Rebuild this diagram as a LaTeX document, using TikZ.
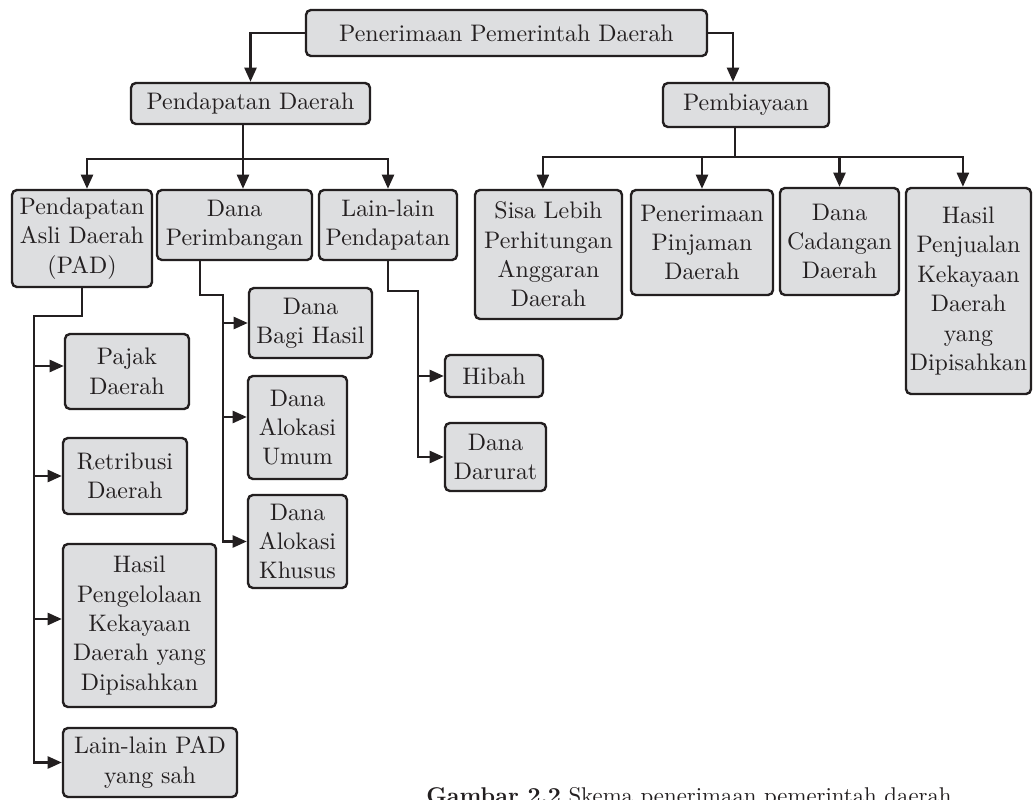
\documentclass[tikz,border=0pt]{standalone}
\usepackage{fontspec}
\setmainfont{lmroman10-regular.otf}[BoldFont=lmroman10-bold.otf,ItalicFont=lmroman10-italic.otf]
\usepackage{tikz}
\usetikzlibrary{arrows.meta}
\definecolor{boxfill}{RGB}{221,222,224}
\definecolor{edge}{RGB}{35,31,32}
\begin{document}
\begin{tikzpicture}[x=0.025cm,y=-0.025cm,
  box/.style 2 args={draw=edge,fill=boxfill,line width=1.7pt,rounded corners=3.5pt,
    align=center,inner sep=1pt,text=edge,font=\fontsize{17}{20.9}\selectfont,
    minimum width=#1*0.025cm,minimum height=#2*0.025cm},
  line/.style={draw=edge,line width=1.7pt},
  arr/.style={line,-{Triangle[length=10pt,width=8.5pt]}},
  caption/.style={text=edge,inner sep=0pt,font=\fontsize{16.2}{19}\selectfont}]
\useasboundingbox (0,0) rectangle (1034,800);
\clip (0,0) rectangle (1034,800);
\node[box={401}{46}] (top) at (506.5,33) {Penerimaan Pemerintah Daerah};
\node[box={239}{41}] (pd) at (250.5,103.5) {Pendapatan Daerah};
\node[box={166}{44}] (pb) at (746,105) {Pembiayaan};
\node[box={140}{97}] (pad) at (82,238.5) {Pendapatan\\Asli Daerah\\(PAD)};
\node[box={155}{70}] (dp) at (234.5,225) {Dana\\Perimbangan};
\node[box={138}{70}] (lp) at (388,225) {Lain-lain\\Pendapatan};
\node[box={147}{129}] (sisa) at (548.5,254.5) {Sisa Lebih\\Perhitungan\\Anggaran\\Daerah};
\node[box={142}{105}] (pinj) at (702,242.5) {Penerimaan\\Pinjaman\\Daerah};
\node[box={119}{107}] (cad) at (839.5,241.5) {Dana\\Cadangan\\Daerah};
\node[box={125}{206}] (jual) at (968.5,291) {Hasil\\Penjualan\\Kekayaan\\Daerah\\yang\\Dipisahkan};
\node[box={124}{75}] (pajak) at (127,371.5) {Pajak\\Daerah};
\node[box={124}{76}] (retri) at (125,476) {Retribusi\\Daerah};
\node[box={153}{163}] (hasil) at (139.5,625.5) {Hasil\\Pengelolaan\\Kekayaan\\Daerah yang\\Dipisahkan};
\node[box={174}{69}] (lpad) at (150,762.5) {Lain-lain PAD\\yang sah};
\node[box={123}{70}] (bagi) at (310.5,323) {Dana\\Bagi Hasil};
\node[box={99}{103}] (umum) at (297.5,427.5) {Dana\\Alokasi\\Umum};
\node[box={99}{93}] (khusus) at (297.5,541.5) {Dana\\Alokasi\\Khusus};
\node[box={98}{42}] (hibah) at (494,376) {Hibah};
\node[box={101}{68}] (darurat) at (495.5,457) {Dana\\Darurat};
\node[caption,anchor=base west] (cap) at (426,803) {\textbf{Gambar 2.2} Skema penerimaan pemerintah daerah};
\coordinate (pdbus) at (243,159);
\coordinate (pbbus) at (735,157);
\coordinate (padspine) at (34,316);
\coordinate (dpdrop) at (200,295);
\coordinate (dpspine) at (223,295);
\coordinate (lpspine) at (418,291);
\coordinate (pajakin) at ([yshift=0.1375cm]pajak.west);
\coordinate (hasilin) at ([yshift=0.1625cm]hasil.west);
\coordinate (umumin) at ([yshift=0.2625cm]umum.west);
\draw[arr] (top.west) -| (pd.north);
\draw[arr] (top.east) -| ([xshift=-0.325cm]pb.north);
\draw[line] (pd.south -| pdbus) -- (pdbus);
\draw[arr] (pdbus) -| ([xshift=0.125cm]pad.north);
\draw[arr] (pdbus) -- (pdbus |- dp.north);
\draw[arr] (pdbus) -| (lp.north);
\draw[line] (pb.south -| pbbus) -- (pbbus);
\draw[arr] (pbbus) -| ([xshift=-0.14cm]sisa.north);
\draw[arr] (pbbus) -| (pinj.north);
\draw[arr] (pbbus) -| (cad.north);
\draw[arr] (pbbus) -| ([xshift=-0.14cm]jual.north);
\draw[arr] (pad.south) |- (padspine) |- (lpad.west);
\draw[arr] (padspine |- pajakin) -- (pajakin);
\draw[arr] (padspine |- retri.west) -- (retri.west);
\draw[arr] (padspine |- hasilin) -- (hasilin);
\draw[arr] (dp.south -| dpdrop) -- (dpdrop) -- (dpspine) |- (khusus.west);
\draw[arr] (dpspine |- bagi.west) -- (bagi.west);
\draw[arr] (dpspine |- umumin) -- (umumin);
\draw[arr] (lp.south) |- (lpspine) |- (darurat.west);
\draw[arr] (lpspine |- hibah.west) -- (hibah.west);
\end{tikzpicture}
\end{document}
